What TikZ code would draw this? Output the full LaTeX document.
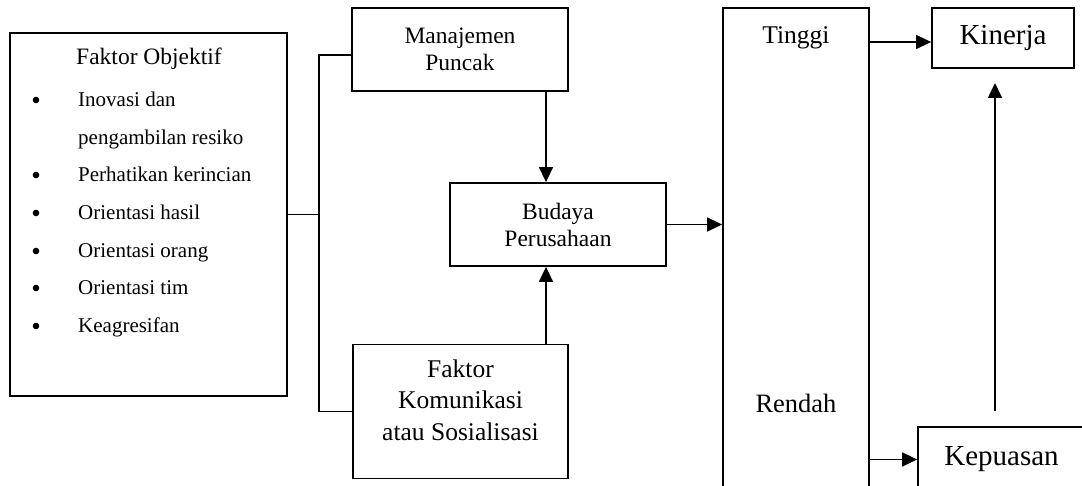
\documentclass[tikz,border=0pt]{standalone}
\usepackage{fontspec}
\setmainfont{Liberation Serif}
\usetikzlibrary{arrows.meta,calc}

\begin{document}
\begin{tikzpicture}
[x=1pt,y=-1pt,
  boxdecorate/.style={shape=rectangle,draw,line width=1.8pt,inner sep=0pt,align=center},%
  linedecorate/.style={-,line width=1.6pt},%
  arrowdecorate/.style={-{Triangle[length=15pt,width=14pt]},line width=1.6pt},%
  headfont/.style={font=\fontsize{23.5}{27}\selectfont},%
  listfont/.style={font=\fontsize{21}{25}\selectfont},%
  bigfont/.style={font=\fontsize{25.5}{31.5}\selectfont},%
  hugefont/.style={font=\fontsize{29}{33}\selectfont}]
\clip (0,0) rectangle (1082,486);
%% boxes
\foreach \nodename/\x/\y/\w/\h in {objektif/148.5/214.5/277/363,
  komunikasi/460.5/411.5/215/134, level/796/269/146/522} {
  \node (\nodename) at (\x,\y) [boxdecorate,minimum width=\w pt,minimum height=\h pt] {};
}
\node (manajemen) at (460,49.5) [boxdecorate,headfont,minimum width=216pt,minimum height=83pt] {Manajemen\\Puncak};
\node (budaya) at (558,224.5) [boxdecorate,headfont,minimum width=216pt,minimum height=83pt] {Budaya\\Perusahaan};
\node (kinerja) at (1003,38) [boxdecorate,hugefont,minimum width=142pt,minimum height=60pt] {Kinerja};
\node (kepuasan) at (1001.5,459.5) [boxdecorate,hugefont,minimum width=167pt,minimum height=65pt] {Kepuasan};
%% texts
\node (judul) at (149,65) [anchor=base,headfont] {Faktor Objektif};
\foreach \itemname/\y in {Inovasi dan/107, pengambilan resiko/145,
  Perhatikan kerincian/182, Orientasi hasil/220, Orientasi orang/258,
  Orientasi tim/295, Keagresifan/333} {
  \node at (78,\y) [anchor=base west,inner sep=0pt,listfont] {\itemname};
}
\foreach \y in {107,182,220,258,295,333} {
  \fill (36,\y-7) circle (3.3pt);
}
\node (komunikasiteks) at (460.5,400) [align=center,bigfont] {Faktor\\Komunikasi\\atau Sosialisasi};
\node (tinggi) at (796,44) [anchor=base,bigfont] {Tinggi};
\node (rendah) at (796,412) [anchor=base,font=\fontsize{26.5}{31}\selectfont] {Rendah};
%% edges or lines
\coordinate (junction) at (319,214.5);
\coordinate (dropx) at (546,0);
\coordinate (risefoot) at (995,411);
\coordinate (risehead) at (995,83);
\draw[linedecorate] (objektif.east) -- (junction);
\draw[linedecorate] ($(manajemen.west)+(0,5.5)$) -| (junction) |- (komunikasi.west);
\draw[arrowdecorate] (manajemen.south -| dropx) -- (budaya.north -| dropx);
\draw[arrowdecorate] (komunikasi.north -| dropx) -- (budaya.south -| dropx);
\draw[arrowdecorate] (budaya.east) -- (budaya.east -| level.west);
\draw[arrowdecorate] ($(level.east |- kinerja.west)+(0,4)$) -- ($(kinerja.west)+(0,4)$);
\draw[arrowdecorate] (level.east |- kepuasan.west) -- (kepuasan.west);
\draw[arrowdecorate] (risefoot) -- (risehead);
\end{tikzpicture}
\end{document}
